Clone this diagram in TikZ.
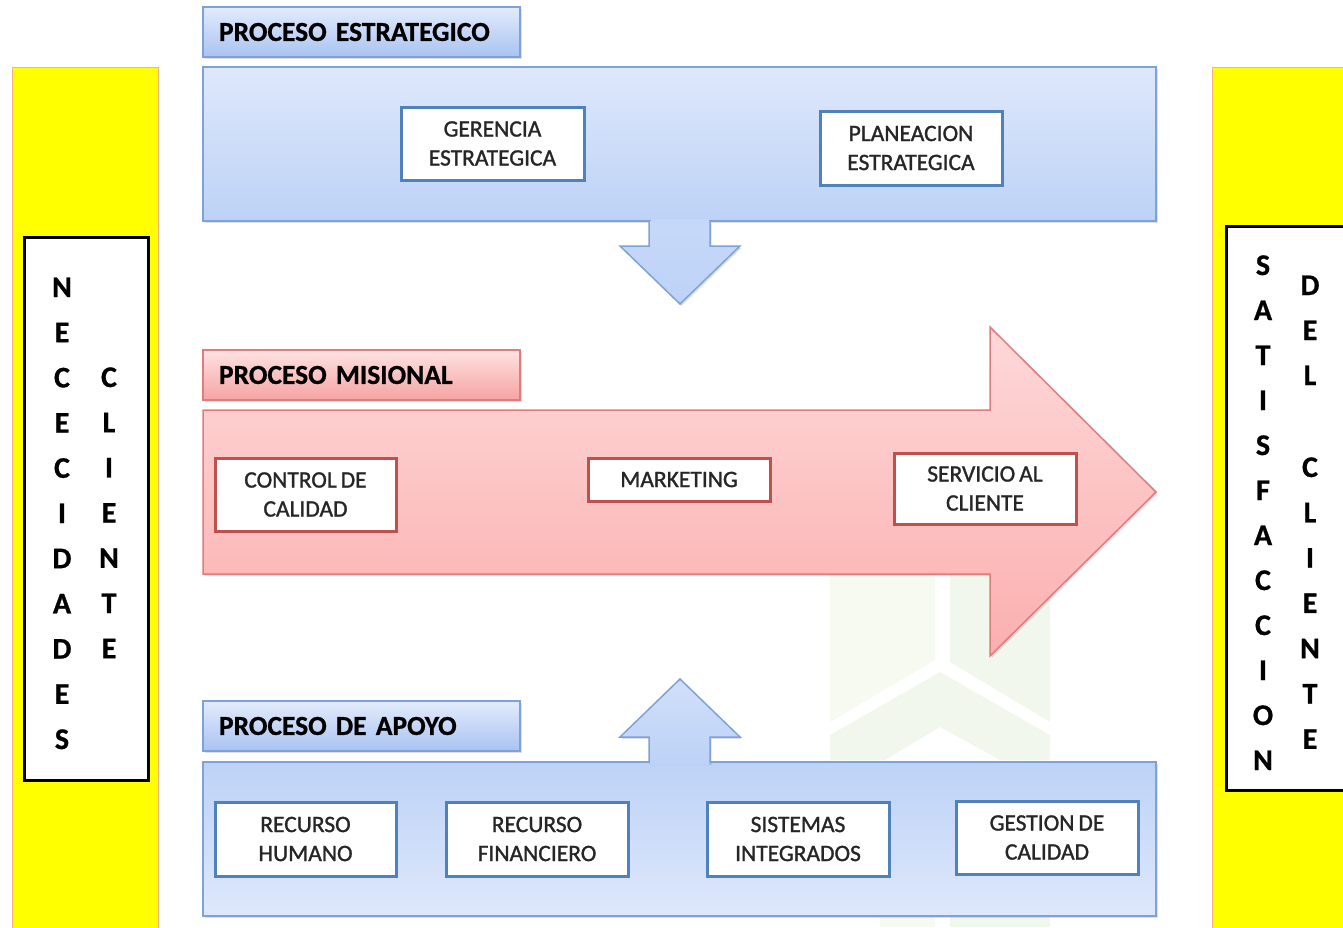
\documentclass[tikz,border=0pt]{standalone}
\usepackage{fontspec}
\setmainfont{Carlito}
\newfontfamily\boxfont[FakeBold=1.2,WordSpace=0.75]{Carlito}
\newfontfamily\hdrfont[FakeBold=0.8,WordSpace=0.6]{Carlito-Bold}
\usetikzlibrary{shadows}
\definecolor{yel}{HTML}{FFFF00}
\definecolor{yelborder}{HTML}{F4B183}
\definecolor{bA}{HTML}{DEE8FB}
\definecolor{bB}{HTML}{BDD2F7}
\definecolor{bborder}{HTML}{7FA2D6}
\definecolor{hbA}{HTML}{E2EBFC}
\definecolor{hbB}{HTML}{A9C3F1}
\definecolor{rA}{HTML}{FED8D8}
\definecolor{rB}{HTML}{FBAFAF}
\definecolor{rborder}{HTML}{E07C7C}
\definecolor{hrA}{HTML}{FEE2E2}
\definecolor{hrB}{HTML}{F6A3A3}
\definecolor{innerblue}{HTML}{4F81BD}
\definecolor{innerred}{HTML}{C0504D}
\definecolor{wmA}{HTML}{F7FAF0}
\definecolor{wmB}{HTML}{F1F7EC}
\begin{document}
\begin{tikzpicture}[x=1pt,y=-1pt,
  shd/.style={drop shadow={opacity=0.25,shadow xshift=1.5pt,shadow yshift=-2pt}},
  ibox/.style={draw=innerblue,fill=white,line width=3pt,align=center,inner sep=0pt,
     font=\boxfont\fontsize{23.5}{29}\selectfont,text=black!85},
  rbox/.style={ibox,draw=innerred},
  hdr/.style={line width=1.5pt,text width=285pt,inner xsep=16pt,minimum height=50pt,
     align=left,font=\hdrfont\fontsize{27.5}{30}\selectfont,shd},
  hdrb/.style={hdr,draw=bborder,top color=hbA,bottom color=hbB},
  hdrr/.style={hdr,draw=rborder,top color=hrA,bottom color=hrB},
  letter/.style={anchor=base,inner sep=0pt,font=\hdrfont\fontsize{30}{30}\selectfont},
  sidebar/.style={fill=yel,draw=yelborder,line width=1pt},
  sidebox/.style={fill=white,draw=black,line width=3pt}
]
\useasboundingbox (0,0) rectangle (1343,927);
% watermark
\fill[wmA] (830,575) -- (935,575) -- (935,660) -- (830,722) -- cycle;
\fill[wmB] (950,575) -- (1050,575) -- (1050,722) -- (950,662) -- cycle;
\fill[wmB] (830,735) -- (940,672) -- (1050,735) -- (1050,760) -- (1000,760) -- (940,727) -- (885,760) -- (830,760) -- cycle;
\fill[wmA] (880,916) rectangle (935,927);
\fill[wmB] (950,916) rectangle (1050,927);

% side bars
\draw[sidebar] (12,67) rectangle (158,935);
\draw[sidebar] (1212,67) rectangle (1350,935);
\draw[sidebox] (24,237) rectangle (148,780);
\draw[sidebox] (1226,226) rectangle (1355,790);

% left letters
\foreach \c [count=\i] in {N,E,C,E,C,I,D,A,D,E,S}
  \node[letter] (ln\i) at (62,{287+45.2*(\i-1)+10}) {\c};
\foreach \c [count=\i] in {C,L,I,E,N,T,E}
  \node[letter] (lc\i) at (109,{377+45.2*(\i-1)+10}) {\c};
% right letters
\foreach \c [count=\i] in {S,A,T,I,S,F,A,C,C,I,O,N}
  \node[letter] (rs\i) at (1263,{265+45*(\i-1)+10}) {\c};
\foreach \c [count=\i] in {D,E,L}
  \node[letter] (rd\i) at (1310,{285+45*(\i-1)+10}) {\c};
\foreach \c [count=\i] in {C,L,I,E,N,T,E}
  \node[letter] (rc\i) at (1310,{467+45.3*(\i-1)+10}) {\c};

% strategic
\node[hdrb] (hest) at (361.5,32) {PROCESO ESTRATEGICO};
\path[shd,draw=bborder,line width=1.5pt,top color=bA,bottom color=bB]
  (203,67) rectangle (1156,221);
\path[shd,draw=bborder,line width=1.5pt,top color=bB!70!bA,bottom color=bB]
  (649,221) -- (649,246) -- (620,246) -- (680,304) -- (740,246) -- (710,246) -- (710,221);
\fill[bB!75!bA] (650.5,219) rectangle (708.5,224);
\node[ibox,minimum width=183pt,minimum height=73pt] (ger) at (492.5,143.5) {GERENCIA\\ESTRATEGICA};
\node[ibox,minimum width=182pt,minimum height=74pt] (pla) at (911,148) {PLANEACION\\ESTRATEGICA};

% misional
\node[hdrr] (hmis) at (361.5,375) {PROCESO MISIONAL};
\path[shd,draw=rborder,line width=1.5pt,top color=rA,bottom color=rB]
  (203,410) -- (990,410) -- (990,327) -- (1156,492) -- (990,656) -- (990,574) -- (203,574) -- cycle;
\node[rbox,minimum width=181pt,minimum height=73pt] (ctl) at (305.5,494.5) {CONTROL DE\\CALIDAD};
\node[rbox,minimum width=182pt,minimum height=43pt] (mkt) at (679,479.5) {MARKETING};
\node[rbox,minimum width=182pt,minimum height=71pt] (ser) at (985,488.5) {SERVICIO AL\\CLIENTE};

% apoyo
\node[hdrb] (hapo) at (361.5,726) {PROCESO DE APOYO};
\path[shd,draw=bborder,line width=1.5pt,top color=bB,bottom color=bA]
  (203,762) rectangle (1156,916);
\path[shd,draw=bborder,line width=1.5pt,top color=bA!60!bB,bottom color=bB]
  (649,763) -- (649,737) -- (620,737) -- (680,679) -- (740,737) -- (710,737) -- (710,763);
\fill[bB] (650.5,760) rectangle (708.5,765);
\node[ibox,minimum width=181pt,minimum height=74pt] (rh) at (305.5,839) {RECURSO\\HUMANO};
\node[ibox,minimum width=182pt,minimum height=74pt] (rf) at (537,839) {RECURSO\\FINANCIERO};
\node[ibox,minimum width=182pt,minimum height=74pt] (si) at (798,839) {SISTEMAS\\INTEGRADOS};
\node[ibox,minimum width=182pt,minimum height=73pt] (gc) at (1047,837.5) {GESTION DE\\CALIDAD};
\end{tikzpicture}
\end{document}
